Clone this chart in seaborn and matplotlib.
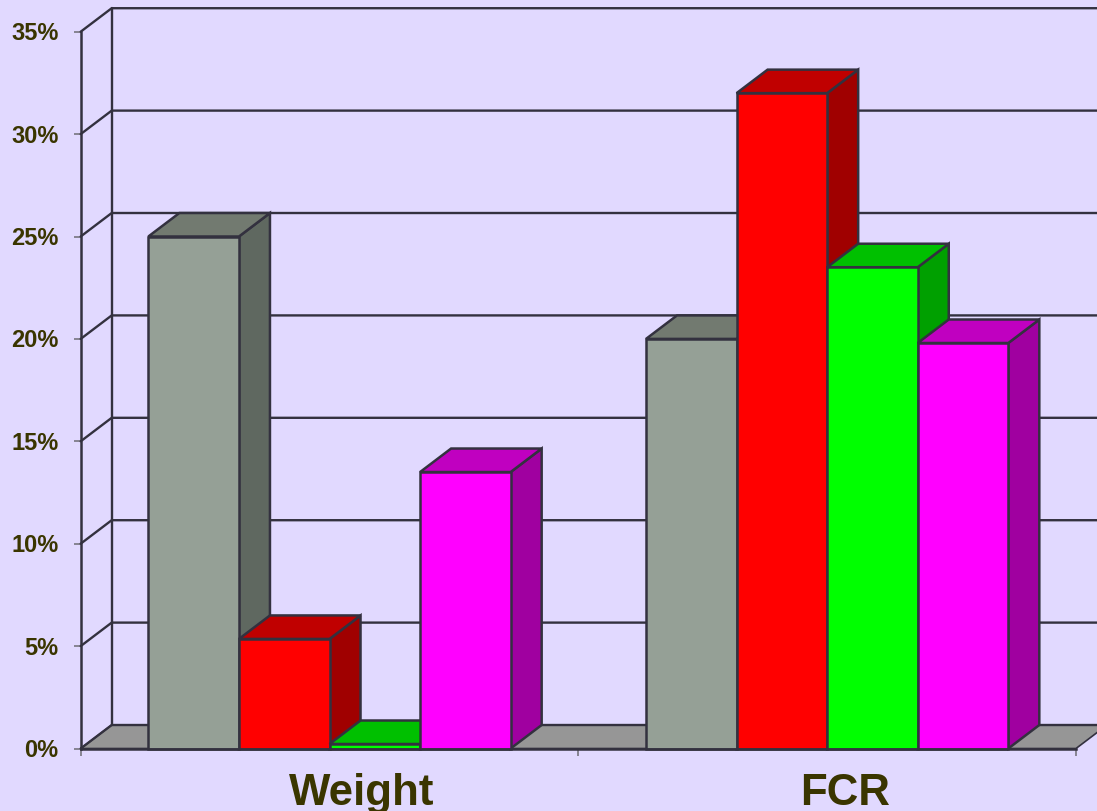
import matplotlib
matplotlib.use("Agg")
import matplotlib.pyplot as plt
import matplotlib.transforms as mtrans
import pandas as pd
import seaborn as sns

# valores (%)
categories = ["Weight", "FCR"]
series_names = ["Grey", "Red", "Green", "Magenta"]
grey_values = [25.0, 20.0]
red_values = [5.35, 32.0]
green_values = [0.22, 23.5]
magenta_values = [13.5, 19.8]
y_ticks = [0, 5, 10, 15, 20, 25, 30, 35]

front_colors = ["#95A096", "#FF0000", "#00FF00", "#FF00FF"]
top_colors = ["#727A70", "#C00000", "#00C000", "#C000C0"]
side_colors = ["#5F6860", "#A00000", "#00A000", "#A000A0"]
bg_color = "#E1D9FF"
line_color = "#33313F"
text_color = "#3A3500"

sns.set_theme(style="white")
plt.rcParams["font.family"] = ["Liberation Sans", "DejaVu Sans"]

rows = []
for name, vals in zip(series_names, [grey_values, red_values, green_values, magenta_values]):
    for cat, v in zip(categories, vals):
        rows.append({"trait": cat, "series": name, "value": v})
df = pd.DataFrame(rows)

W, H = 1097, 812
fig = plt.figure(figsize=(W / 100, H / 100), dpi=100, facecolor=bg_color)
ax = fig.add_axes([80.7 / W, (H - 749.5) / H, 995.3 / W, 716.8 / H])
ax.set_facecolor("none")

sns.barplot(
    data=df,
    x="trait",
    y="value",
    hue="series",
    hue_order=series_names,
    palette=front_colors,
    saturation=1,
    width=0.728,
    gap=0,
    edgecolor=line_color,
    linewidth=1.8,
    legend=False,
    ax=ax,
)
ax.set_xlim(-0.5, 1.5)
ax.set_ylim(0, 35)

# profundidad del efecto 3D en unidades de datos
dx = 31 / 497.65
dy = 1.147

# suelo y pared del fondo
ax.fill(
    [-0.5, 1.5, 1.5 + dx, -0.5 + dx],
    [0, 0, dy, dy],
    facecolor="#969696",
    edgecolor=line_color,
    linewidth=1.2,
    clip_on=False,
    zorder=1,
)
for t in y_ticks:
    ax.plot(
        [-0.5, -0.5 + dx, 1.5 + dx],
        [t, t + dy, t + dy],
        color=line_color,
        linewidth=1.7,
        clip_on=False,
        zorder=1.5,
    )
ax.plot([-0.5 + dx, -0.5 + dx], [dy, 35 + dy], color=line_color, linewidth=1.7, clip_on=False, zorder=1.5)

# caras laterales y superiores de cada barra, de izquierda a derecha
bars = []
for i, container in enumerate(ax.containers):
    for bar in container:
        bar.set_clip_on(False)
        bars.append((bar.get_x(), i, bar))
bars.sort(key=lambda b: b[0])

order = 3
for x0, i, bar in bars:
    x1 = x0 + bar.get_width()
    h = bar.get_height()
    ax.fill(
        [x1, x1 + dx, x1 + dx, x1],
        [0, dy, h + dy, h],
        facecolor=side_colors[i],
        edgecolor=line_color,
        linewidth=1.8,
        clip_on=False,
        zorder=order,
    )
    ax.fill(
        [x0, x1, x1 + dx, x0 + dx],
        [h, h, h + dy, h + dy],
        facecolor=top_colors[i],
        edgecolor=line_color,
        linewidth=1.8,
        clip_on=False,
        zorder=order,
    )
    bar.set_zorder(order + 0.5)
    order += 1

sns.despine(ax=ax, top=True, right=True)
for side in ["left", "bottom"]:
    ax.spines[side].set_color(line_color)
    ax.spines[side].set_linewidth(1.8)
    ax.spines[side].set_zorder(30)

ax.set_yticks(y_ticks)
ax.set_yticklabels([f"{t}%" for t in y_ticks], fontsize=17, fontweight="bold", color=text_color)
ax.set_xticks([-0.5, 0.5, 1.5])
ax.set_xticklabels(["", "", ""])
# las etiquetas del eje van algo desplazadas a la derecha como en el original
ax.set_xticks([0.064, 1.037], labels=categories, minor=True)
ax.tick_params(axis="y", length=5, width=1.2, color="#77757F", left=True, pad=11)
ax.tick_params(axis="x", which="major", length=5, width=1.2, color="#77757F", bottom=True)
ax.tick_params(axis="x", which="minor", length=0, pad=17, labelsize=31.6, labelcolor=text_color)
for lab in ax.get_xticklabels(minor=True):
    lab.set_fontweight("bold")
# subir un poco las etiquetas del eje y
up = mtrans.ScaledTranslation(0, 1.5 / 100, fig.dpi_scale_trans)
for lab in ax.get_yticklabels():
    lab.set_transform(lab.get_transform() + up)
ax.set_xlabel("")
ax.set_ylabel("")

fig.savefig("out.png", dpi=100, facecolor=bg_color)
